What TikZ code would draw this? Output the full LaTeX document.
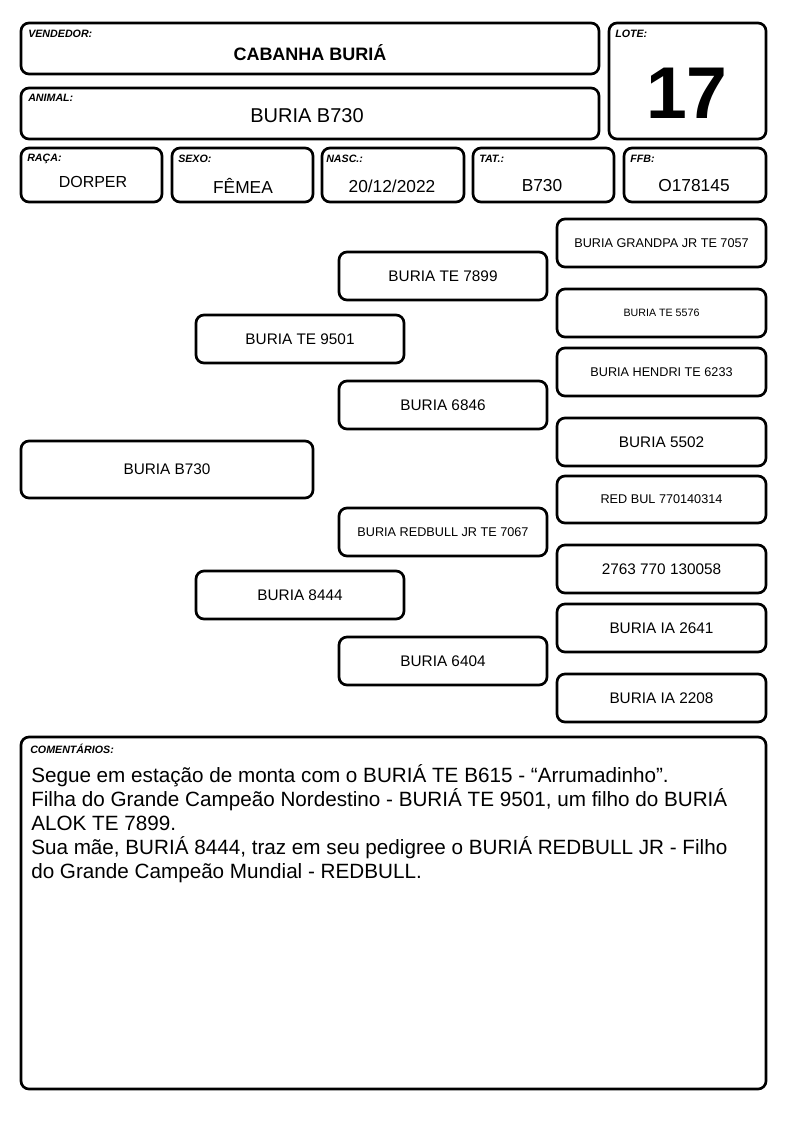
\documentclass[tikz,border=0pt]{standalone}
\usepackage{fontspec}
\setmainfont{Liberation Sans}
\begin{document}
\begin{tikzpicture}[x=0.75pt,y=-0.75pt,
  box/.style 2 args={draw=black, line width=2pt, rounded corners=6pt, minimum width=#1*0.75pt, minimum height=#2*0.75pt, inner sep=0pt},
  lbl/.style={anchor=north west, inner sep=0pt, font=\fontsize{8}{9}\selectfont\bfseries\itshape},
  val/.style={inner sep=0pt, font=\fontsize{13}{15}\selectfont},
  ped/.style={inner sep=0pt, font=\fontsize{11.5}{13}\selectfont},
  peds/.style={inner sep=0pt, font=\fontsize{9.5}{11}\selectfont},
  pedxs/.style={inner sep=0pt, font=\fontsize{8}{10}\selectfont}]
\useasboundingbox (0,0) rectangle (794,1123);
\fill[white] (0,0) rectangle (794,1123);
% header boxes
\node[box={578}{51}] (vend) at (310,48.5) {};
\node[box={578}{51}] (anim) at (310,113.5) {};
\node[box={157}{116}] (lote) at (687.5,81) {};
\node[box={141}{54}] (raca) at (91.5,175) {};
\node[box={141}{54}] (sexo) at (242.5,175) {};
\node[box={142}{54}] (nasc) at (393,175) {};
\node[box={141}{54}] (tat) at (543.5,175) {};
\node[box={142}{54}] (ffb) at (695,175) {};
\node[lbl] (vendl) at (28,30) {VENDEDOR:};
\node[lbl] (animl) at (28,94) {ANIMAL:};
\node[lbl] (lotel) at (615,30) {LOTE:};
\node[lbl] (racal) at (27,154) {RAÇA:};
\node[lbl] (sexol) at (178,155) {SEXO:};
\node[lbl] (nascl) at (326,155) {NASC.:};
\node[lbl] (tatl) at (479,155) {TAT.:};
\node[lbl] (ffbl) at (630,155) {FFB:};
\node[inner sep=0pt, font=\fontsize{13.5}{15}\selectfont\bfseries] (vendv) at (310,53) {CABANHA BURIÁ};
\node[inner sep=0pt, font=\fontsize{15}{17}\selectfont] (animv) at (307,116) {BURIA B730};
\node[inner sep=0pt, font=\fontsize{55}{60}\selectfont\bfseries] (lotev) at (687,93) {17};
\node[inner sep=0pt, font=\fontsize{12}{14}\selectfont] (racav) at (93,182) {DORPER};
\node[val] (sexov) at (243,186) {FÊMEA};
\node[val] (nascv) at (392,186) {20/12/2022};
\node[val] (tatv) at (542,186) {B730};
\node[val] (ffbv) at (694,186) {O178145};
% pedigree
\node[box={292}{57}, ped] (p0) at (167,469.5) {BURIA B730};
\node[box={208}{48}, ped] (p1) at (300,339) {BURIA TE 9501};
\node[box={208}{48}, ped] (p2) at (300,595) {BURIA 8444};
\node[box={208}{48}, ped] (p11) at (443,276) {BURIA TE 7899};
\node[box={208}{48}, ped] (p12) at (443,405) {BURIA 6846};
\node[box={208}{48}, peds] (p21) at (443,532) {BURIA REDBULL JR TE 7067};
\node[box={208}{48}, ped] (p22) at (443,661) {BURIA 6404};
\node[box={209}{48}, peds] (p111) at (661.5,243) {BURIA GRANDPA JR TE 7057};
\node[box={209}{48}, pedxs] (p112) at (661.5,313) {BURIA TE 5576};
\node[box={209}{48}, peds] (p121) at (661.5,372) {BURIA HENDRI TE 6233};
\node[box={209}{48}, ped] (p122) at (661.5,442) {BURIA 5502};
\node[box={209}{47}, peds] (p211) at (661.5,499.5) {RED BUL 770140314};
\node[box={209}{48}, ped] (p212) at (661.5,569) {2763 770 130058};
\node[box={209}{48}, ped] (p221) at (661.5,628) {BURIA IA 2641};
\node[box={209}{48}, ped] (p222) at (661.5,698) {BURIA IA 2208};
% comments
\node[box={745}{352}] (com) at (393.5,913) {};
\node[lbl] (coml) at (30,744) {COMENTÁRIOS:};
\node[anchor=north west, inner sep=0pt, align=left, font=\fontsize{15.5}{18}\selectfont] (comt) at (31,764) {Segue em estação de monta com o BURIÁ TE B615 - “Arrumadinho”.\\
Filha do Grande Campeão Nordestino - BURIÁ TE 9501, um filho do BURIÁ\\
ALOK TE 7899.\\
Sua mãe, BURIÁ 8444, traz em seu pedigree o BURIÁ REDBULL JR - Filho\\
do Grande Campeão Mundial - REDBULL.};
\end{tikzpicture}
\end{document}
